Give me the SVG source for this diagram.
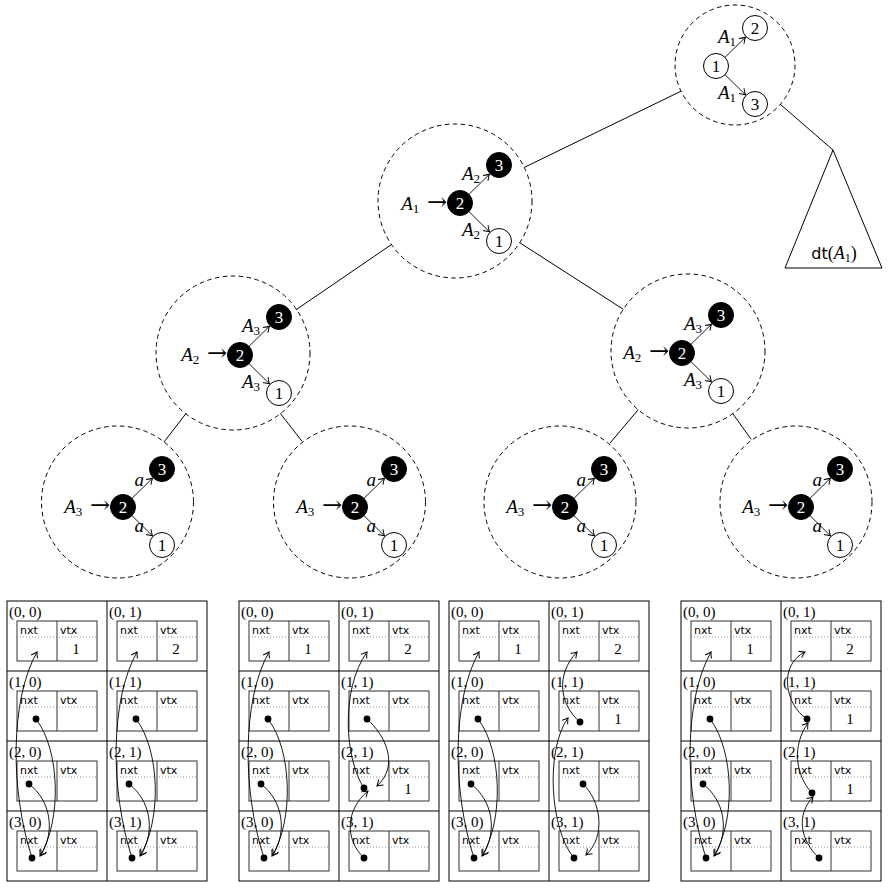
<svg xmlns="http://www.w3.org/2000/svg" width="889" height="888" viewBox="0 0 889 888">
<style>
.bg{fill:#fff}
.dc{fill:none;stroke:#000;stroke-width:1;stroke-dasharray:4.5 3.5}
.e{fill:none;stroke:#000;stroke-width:1}
.nw{fill:#fff;stroke:#000;stroke-width:1}
.nb{fill:#000;stroke:#000;stroke-width:1}
.s{font-family:"Liberation Serif","DejaVu Serif",serif;fill:#000}
.big{font-size:19px}
.ar{font-family:"DejaVu Serif",serif;font-size:24px}
.nt{font-size:17px;text-anchor:middle}
.w{fill:#fff}
.it{font-style:italic}
.sf{font-family:"DejaVu Sans","Liberation Sans",sans-serif;font-size:11px;fill:#000}
.cl{font-size:15px}
.ib{fill:#fff;stroke:#333;stroke-width:1}
.dot{stroke:#777;stroke-width:0.8;stroke-dasharray:1 2}
.tb{fill:none;stroke:#000;stroke-width:1}
.d{fill:#000}
.arr{fill:none;stroke:#000;stroke-width:0.9;marker-end:url(#ah)}
</style>
<defs>
<marker id="ah" viewBox="-7 -5 9 10" refX="0" refY="0" markerWidth="9" markerHeight="10" markerUnits="userSpaceOnUse" orient="auto">
<path d="M-5.5,-3.6 Q-1.8,-0.9 0,0 Q-1.8,0.9 -5.5,3.6" fill="none" stroke="#000" stroke-width="1"/>
</marker>
</defs>
<rect class="bg" x="0" y="0" width="889" height="888"/>

<g id="connectors">
<line class="e" x1="681" y1="91.2" x2="524.3" y2="167.4"/>
<line class="e" x1="780.3" y1="104.3" x2="833" y2="150"/>
<line class="e" x1="391.5" y1="244.5" x2="296" y2="309.8"/>
<line class="e" x1="519.7" y1="242.7" x2="623.3" y2="309.3"/>
<line class="e" x1="186" y1="413.5" x2="164" y2="442"/>
<line class="e" x1="280.2" y1="413.3" x2="302" y2="441.3"/>
<line class="e" x1="638.2" y1="409.7" x2="609.8" y2="443.3"/>
<line class="e" x1="732.8" y1="413.6" x2="751.2" y2="439.4"/>
</g>

<!-- top circle -->
<g id="root" transform="translate(716,66)">
<circle class="dc" cx="19" cy="-1" r="60"/>
<path class="arr" d="M9,-8.7 L29.4,-28.7"/>
<path class="arr" d="M9,8.7 L29.4,28.7"/>
<circle class="nw" cx="0" cy="0" r="12.5"/><text class="s nt" x="0" y="6">1</text>
<circle class="nw" cx="39" cy="-38" r="12.5"/><text class="s nt" x="39" y="-32">2</text>
<circle class="nw" cx="39" cy="38" r="12.5"/><text class="s nt" x="39" y="44">3</text>
<text class="s big" x="20" y="-23" text-anchor="end"><tspan class="it">A</tspan><tspan font-size="13" dy="3">1</tspan></text>
<text class="s big" x="20" y="33" text-anchor="end"><tspan class="it">A</tspan><tspan font-size="13" dy="3">1</tspan></text>
</g>

<g id="dt">
<polygon class="e" points="833,150 785,268 882,268"/>
<text class="s" x="834" y="259" text-anchor="middle" font-size="18"><tspan font-family="DejaVu Sans, sans-serif" font-size="16">dt</tspan><tspan>(</tspan><tspan class="it">A</tspan><tspan font-size="12" dy="3">1</tspan><tspan dy="-3">)</tspan></text>
</g>

<!-- level 2 -->
<g id="l2" transform="translate(460,203)">
<circle class="dc" cx="-5" cy="-2" r="77"/>
<text class="s big" x="-13" y="7" text-anchor="end"><tspan class="it">A</tspan><tspan font-size="13" dy="3">1</tspan><tspan dy="-3" class="ar"> →</tspan></text>
<path class="arr" d="M9,-8.7 L29.4,-28.7"/>
<path class="arr" d="M9,8.7 L29.4,28.7"/>
<circle class="nb" cx="0" cy="0" r="12.5"/><text class="s nt w" x="0" y="6">2</text>
<circle class="nb" cx="39" cy="-38" r="12.5"/><text class="s nt w" x="39" y="-32">3</text>
<circle class="nw" cx="39" cy="38" r="12.5"/><text class="s nt" x="39" y="44">1</text>
<text class="s big" x="20" y="-23" text-anchor="end"><tspan class="it">A</tspan><tspan font-size="13" dy="3">2</tspan></text>
<text class="s big" x="20" y="33" text-anchor="end"><tspan class="it">A</tspan><tspan font-size="13" dy="3">2</tspan></text>
</g>

<!-- level 3 left -->
<g id="l3a" transform="translate(240,355)">
<circle class="dc" cx="-7" cy="-2" r="77"/>
<text class="s big" x="-13" y="6" text-anchor="end"><tspan class="it">A</tspan><tspan font-size="13" dy="3">2</tspan><tspan dy="-3" class="ar"> →</tspan></text>
<path class="arr" d="M9,-8.7 L29.4,-28.7"/>
<path class="arr" d="M9,8.7 L29.4,28.7"/>
<circle class="nb" cx="0" cy="0" r="12.5"/><text class="s nt w" x="0" y="6">2</text>
<circle class="nb" cx="39" cy="-38" r="12.5"/><text class="s nt w" x="39" y="-32">3</text>
<circle class="nw" cx="39" cy="38" r="12.5"/><text class="s nt" x="39" y="44">1</text>
<text class="s big" x="20" y="-23" text-anchor="end"><tspan class="it">A</tspan><tspan font-size="13" dy="3">3</tspan></text>
<text class="s big" x="20" y="33" text-anchor="end"><tspan class="it">A</tspan><tspan font-size="13" dy="3">3</tspan></text>
</g>

<!-- level 3 right -->
<g id="l3b" transform="translate(682,353)">
<circle class="dc" cx="6" cy="-2" r="77"/>
<text class="s big" x="-13" y="6" text-anchor="end"><tspan class="it">A</tspan><tspan font-size="13" dy="3">2</tspan><tspan dy="-3" class="ar"> →</tspan></text>
<path class="arr" d="M9,-8.7 L29.4,-28.7"/>
<path class="arr" d="M9,8.7 L29.4,28.7"/>
<circle class="nb" cx="0" cy="0" r="12.5"/><text class="s nt w" x="0" y="6">2</text>
<circle class="nb" cx="39" cy="-38" r="12.5"/><text class="s nt w" x="39" y="-32">3</text>
<circle class="nw" cx="39" cy="38" r="12.5"/><text class="s nt" x="39" y="44">1</text>
<text class="s big" x="20" y="-23" text-anchor="end"><tspan class="it">A</tspan><tspan font-size="13" dy="3">3</tspan></text>
<text class="s big" x="20" y="33" text-anchor="end"><tspan class="it">A</tspan><tspan font-size="13" dy="3">3</tspan></text>
</g>

<!-- level 4 -->
<g id="l4a" transform="translate(123,507)">
<circle class="dc" cx="-5.5" cy="-5" r="76"/>
<text class="s big" x="-13" y="6" text-anchor="end"><tspan class="it">A</tspan><tspan font-size="13" dy="3">3</tspan><tspan dy="-3" class="ar"> →</tspan></text>
<path class="arr" d="M9,-8.7 L29.4,-28.7"/>
<path class="arr" d="M9,8.7 L29.4,28.7"/>
<circle class="nb" cx="0" cy="0" r="12.5"/><text class="s nt w" x="0" y="6">2</text>
<circle class="nb" cx="39" cy="-38" r="12.5"/><text class="s nt w" x="39" y="-32">3</text>
<circle class="nw" cx="39" cy="38" r="12.5"/><text class="s nt" x="39" y="44">1</text>
<text class="s big it" x="21" y="-21" text-anchor="end">a</text>
<text class="s big it" x="21" y="25" text-anchor="end">a</text>
</g>

<g id="l4b" transform="translate(355,507)">
<circle class="dc" cx="-5.5" cy="-5" r="76"/>
<text class="s big" x="-13" y="6" text-anchor="end"><tspan class="it">A</tspan><tspan font-size="13" dy="3">3</tspan><tspan dy="-3" class="ar"> →</tspan></text>
<path class="arr" d="M9,-8.7 L29.4,-28.7"/>
<path class="arr" d="M9,8.7 L29.4,28.7"/>
<circle class="nb" cx="0" cy="0" r="12.5"/><text class="s nt w" x="0" y="6">2</text>
<circle class="nb" cx="39" cy="-38" r="12.5"/><text class="s nt w" x="39" y="-32">3</text>
<circle class="nw" cx="39" cy="38" r="12.5"/><text class="s nt" x="39" y="44">1</text>
<text class="s big it" x="21" y="-21" text-anchor="end">a</text>
<text class="s big it" x="21" y="25" text-anchor="end">a</text>
</g>

<g id="l4c" transform="translate(565,507)">
<circle class="dc" cx="-5" cy="-5" r="76"/>
<text class="s big" x="-13" y="6" text-anchor="end"><tspan class="it">A</tspan><tspan font-size="13" dy="3">3</tspan><tspan dy="-3" class="ar"> →</tspan></text>
<path class="arr" d="M9,-8.7 L29.4,-28.7"/>
<path class="arr" d="M9,8.7 L29.4,28.7"/>
<circle class="nb" cx="0" cy="0" r="12.5"/><text class="s nt w" x="0" y="6">2</text>
<circle class="nb" cx="39" cy="-38" r="12.5"/><text class="s nt w" x="39" y="-32">3</text>
<circle class="nw" cx="39" cy="38" r="12.5"/><text class="s nt" x="39" y="44">1</text>
<text class="s big it" x="21" y="-21" text-anchor="end">a</text>
<text class="s big it" x="21" y="25" text-anchor="end">a</text>
</g>

<g id="l4d" transform="translate(801,507)">
<circle class="dc" cx="-5" cy="-5" r="76"/>
<text class="s big" x="-13" y="6" text-anchor="end"><tspan class="it">A</tspan><tspan font-size="13" dy="3">3</tspan><tspan dy="-3" class="ar"> →</tspan></text>
<path class="arr" d="M9,-8.7 L29.4,-28.7"/>
<path class="arr" d="M9,8.7 L29.4,28.7"/>
<circle class="nb" cx="0" cy="0" r="12.5"/><text class="s nt w" x="0" y="6">2</text>
<circle class="nb" cx="39" cy="-38" r="12.5"/><text class="s nt w" x="39" y="-32">3</text>
<circle class="nw" cx="39" cy="38" r="12.5"/><text class="s nt" x="39" y="44">1</text>
<text class="s big it" x="21" y="-21" text-anchor="end">a</text>
<text class="s big it" x="21" y="25" text-anchor="end">a</text>
</g>

<defs>
<g id="grid">
<rect class="tb" x="0" y="0" width="200" height="280"/>
<line class="tb" x1="100" y1="0" x2="100" y2="280"/>
<line class="tb" x1="0" y1="70" x2="200" y2="70"/>
<line class="tb" x1="0" y1="140" x2="200" y2="140"/>
<line class="tb" x1="0" y1="210" x2="200" y2="210"/>
<text class="s cl" x="2" y="16">(0, 0)</text><text class="s cl" x="102" y="16">(0, 1)</text>
<text class="s cl" x="2" y="86">(1, 0)</text><text class="s cl" x="102" y="86">(1, 1)</text>
<text class="s cl" x="2" y="156">(2, 0)</text><text class="s cl" x="102" y="156">(2, 1)</text>
<text class="s cl" x="2" y="226">(3, 0)</text><text class="s cl" x="102" y="226">(3, 1)</text>
</g>
<g id="box">
<rect class="ib" x="0" y="0" width="80" height="40"/>
<line class="ib" x1="40" y1="0" x2="40" y2="40"/>
<line class="dot" x1="0" y1="16" x2="80" y2="16"/>
<text class="sf" x="3" y="12.5">nxt</text>
<text class="sf" x="43" y="12.5">vtx</text>
</g>
<g id="boxes">
<use href="#box" x="10" y="20"/><use href="#box" x="110" y="20"/>
<use href="#box" x="10" y="90"/><use href="#box" x="110" y="90"/>
<use href="#box" x="10" y="160"/><use href="#box" x="110" y="160"/>
<use href="#box" x="10" y="230"/><use href="#box" x="110" y="230"/>
</g>
<g id="col0">
<circle class="d" cx="29" cy="118" r="3.4"/>
<circle class="d" cx="22" cy="183" r="3.4"/>
<circle class="d" cx="25" cy="257" r="3.4"/>
<path class="arr" d="M25,257 C3,189 3,99 30,51"/>
<path class="arr" d="M29,118 C53,149 55,219 33,255"/>
<path class="arr" d="M22,183 C43,199 49,229 34,254"/>
</g>
</defs>

<g id="table1" transform="translate(7,601)">
<use href="#grid"/>
<use href="#boxes"/>
<text class="s cl" x="69" y="53" text-anchor="middle">1</text>
<text class="s cl" x="169" y="53" text-anchor="middle">2</text>
<use href="#col0"/>
<use href="#col0" x="100"/>
</g>

<g id="table2" transform="translate(239,601)">
<use href="#grid"/>
<use href="#boxes"/>
<text class="s cl" x="69" y="53" text-anchor="middle">1</text>
<text class="s cl" x="169" y="53" text-anchor="middle">2</text>
<text class="s cl" x="169" y="193" text-anchor="middle">1</text>
<use href="#col0"/>
<circle class="d" cx="128" cy="118" r="3.4"/>
<circle class="d" cx="125" cy="187" r="3.4"/>
<circle class="d" cx="125" cy="257" r="3.4"/>
<path class="arr" d="M125,187 C106,159 101,89 128,51"/>
<path class="arr" d="M128,118 C146,134 161,164 138,185"/>
<path class="arr" d="M125,257 C106,239 106,209 129,190"/>
</g>

<g id="table3" transform="translate(449,601)">
<use href="#grid"/>
<use href="#boxes"/>
<text class="s cl" x="69" y="53" text-anchor="middle">1</text>
<text class="s cl" x="169" y="53" text-anchor="middle">2</text>
<text class="s cl" x="169" y="123" text-anchor="middle">1</text>
<use href="#col0"/>
<circle class="d" cx="131" cy="121" r="3.4"/>
<circle class="d" cx="134" cy="183" r="3.4"/>
<circle class="d" cx="125" cy="257" r="3.4"/>
<path class="arr" d="M131,121 C111,104 106,74 128,51"/>
<path class="arr" d="M125,257 C101,229 96,149 119,117"/>
<path class="arr" d="M134,183 C151,199 158,234 137,254"/>
</g>

<g id="table4" transform="translate(681,601)">
<use href="#grid"/>
<use href="#boxes"/>
<text class="s cl" x="69" y="53" text-anchor="middle">1</text>
<text class="s cl" x="169" y="53" text-anchor="middle">2</text>
<text class="s cl" x="169" y="123" text-anchor="middle">1</text>
<text class="s cl" x="169" y="193" text-anchor="middle">1</text>
<use href="#col0"/>
<circle class="d" cx="126" cy="118" r="3.4"/>
<circle class="d" cx="131" cy="192" r="3.4"/>
<circle class="d" cx="138" cy="257" r="3.4"/>
<path class="arr" d="M126,118 C104,104 97,64 124,51"/>
<path class="arr" d="M131,192 C114,174 111,144 127,122"/>
<path class="arr" d="M138,257 C119,239 115,214 132,196"/>
</g>
</svg>
